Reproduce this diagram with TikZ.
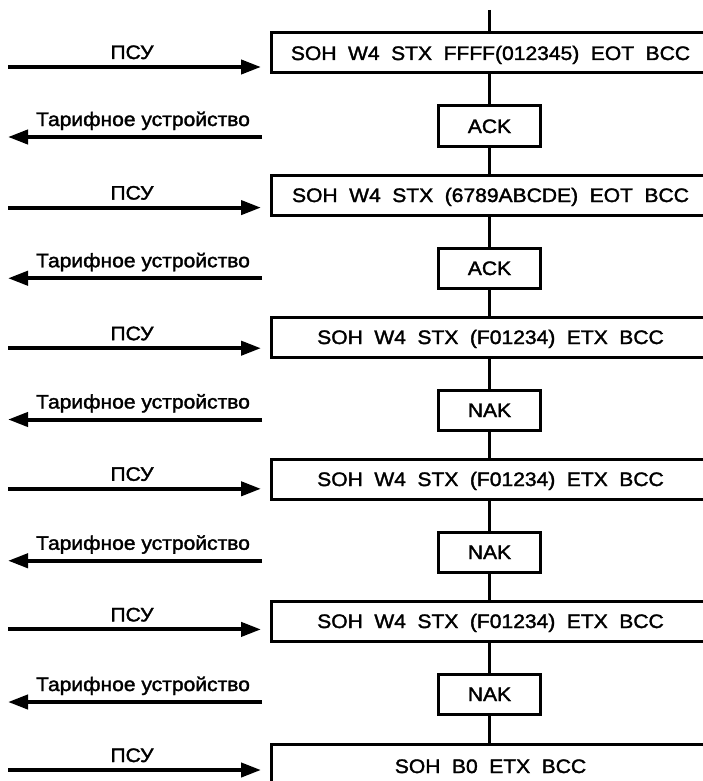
\documentclass[tikz,border=0pt]{standalone}
\usepackage{fontspec}
\setmainfont{Liberation Sans}[FakeStretch=1.08,FakeBold=1.7]
\usetikzlibrary{arrows.meta}
\tikzset{
  txt/.style={font=\fontsize{19.5}{22}\selectfont},
  bigbox/.style={draw, line width=3pt, fill=white, anchor=west, minimum width=439pt, minimum height=40pt, inner sep=0pt, text height=14pt, text depth=0pt, txt},
  smallbox/.style={draw, line width=3pt, fill=white, minimum width=102pt, minimum height=40pt, inner sep=0pt, text height=14pt, text depth=0pt, txt},
  flowline/.style={line width=3pt},
  msgarrow/.style={line width=4pt, -{Triangle[length=20pt,width=14pt]}},
  lbl/.style={inner sep=0pt, anchor=base, txt}
}
\newcommand{\wsp}{\hspace{11.5pt}}
\begin{document}
\begin{tikzpicture}[x=1pt,y=-1pt]
\useasboundingbox (0,0) rectangle (703,781);
\clip (0,0) rectangle (703,781);
\coordinate (top) at (489,10);
% big boxes (top y = 33 + 142 k), center y = top + 20
\node[bigbox] (b1) at (269.5,53)  {SOH\wsp W4\wsp STX\wsp FFFF(012345)\wsp EOT\wsp BCC};
\node[bigbox] (b2) at (269.5,195) {SOH\wsp W4\wsp STX\wsp (6789ABCDE)\wsp EOT\wsp BCC};
\node[bigbox] (b3) at (269.5,337) {SOH\wsp W4\wsp STX\wsp (F01234)\wsp ETX\wsp BCC};
\node[bigbox] (b4) at (269.5,479) {SOH\wsp W4\wsp STX\wsp (F01234)\wsp ETX\wsp BCC};
\node[bigbox] (b5) at (269.5,621) {SOH\wsp W4\wsp STX\wsp (F01234)\wsp ETX\wsp BCC};
\node[bigbox, minimum height=44pt] (b6) at (269.5,766) {SOH\wsp B0\wsp ETX\wsp BCC};
% small boxes (center y = 126 + 142 k)
\node[smallbox] (s1) at (489.5,126) {ACK};
\node[smallbox] (s2) at (489.5,268) {ACK};
\node[smallbox] (s3) at (489.5,410) {NAK};
\node[smallbox] (s4) at (489.5,552) {NAK};
\node[smallbox] (s5) at (489.5,694) {NAK};
% vertical flow line
\draw[flowline] (top) -- (b1.north -| top);
\draw[flowline] (b1.south -| top) -- (s1.north -| top);
\draw[flowline] (s1.south -| top) -- (b2.north -| top);
\draw[flowline] (b2.south -| top) -- (s2.north -| top);
\draw[flowline] (s2.south -| top) -- (b3.north -| top);
\draw[flowline] (b3.south -| top) -- (s3.north -| top);
\draw[flowline] (s3.south -| top) -- (b4.north -| top);
\draw[flowline] (b4.south -| top) -- (s4.north -| top);
\draw[flowline] (s4.south -| top) -- (b5.north -| top);
\draw[flowline] (b5.south -| top) -- (s5.north -| top);
\draw[flowline] (s5.south -| top) -- (b6.north -| top);
% message arrows from ПСУ
\foreach \k in {0,...,5}{
  \coordinate (pa\k) at (8,{67+140.6*\k});
  \coordinate (pb\k) at (261,{67+140.6*\k});
  \draw[msgarrow] (pa\k) -- (pb\k);
  \node[lbl] (pl\k) at (132,{59+140.6*\k}) {ПСУ};
}
% answers from Тарифное устройство
\foreach \k in {0,...,4}{
  \coordinate (ta\k) at (262,{137+141.25*\k});
  \coordinate (tb\k) at (8,{137+141.25*\k});
  \draw[msgarrow] (ta\k) -- (tb\k);
  \node[lbl] (tl\k) at (143,{126+141.25*\k}) {Тарифное устройство};
}
\end{tikzpicture}
\end{document}
